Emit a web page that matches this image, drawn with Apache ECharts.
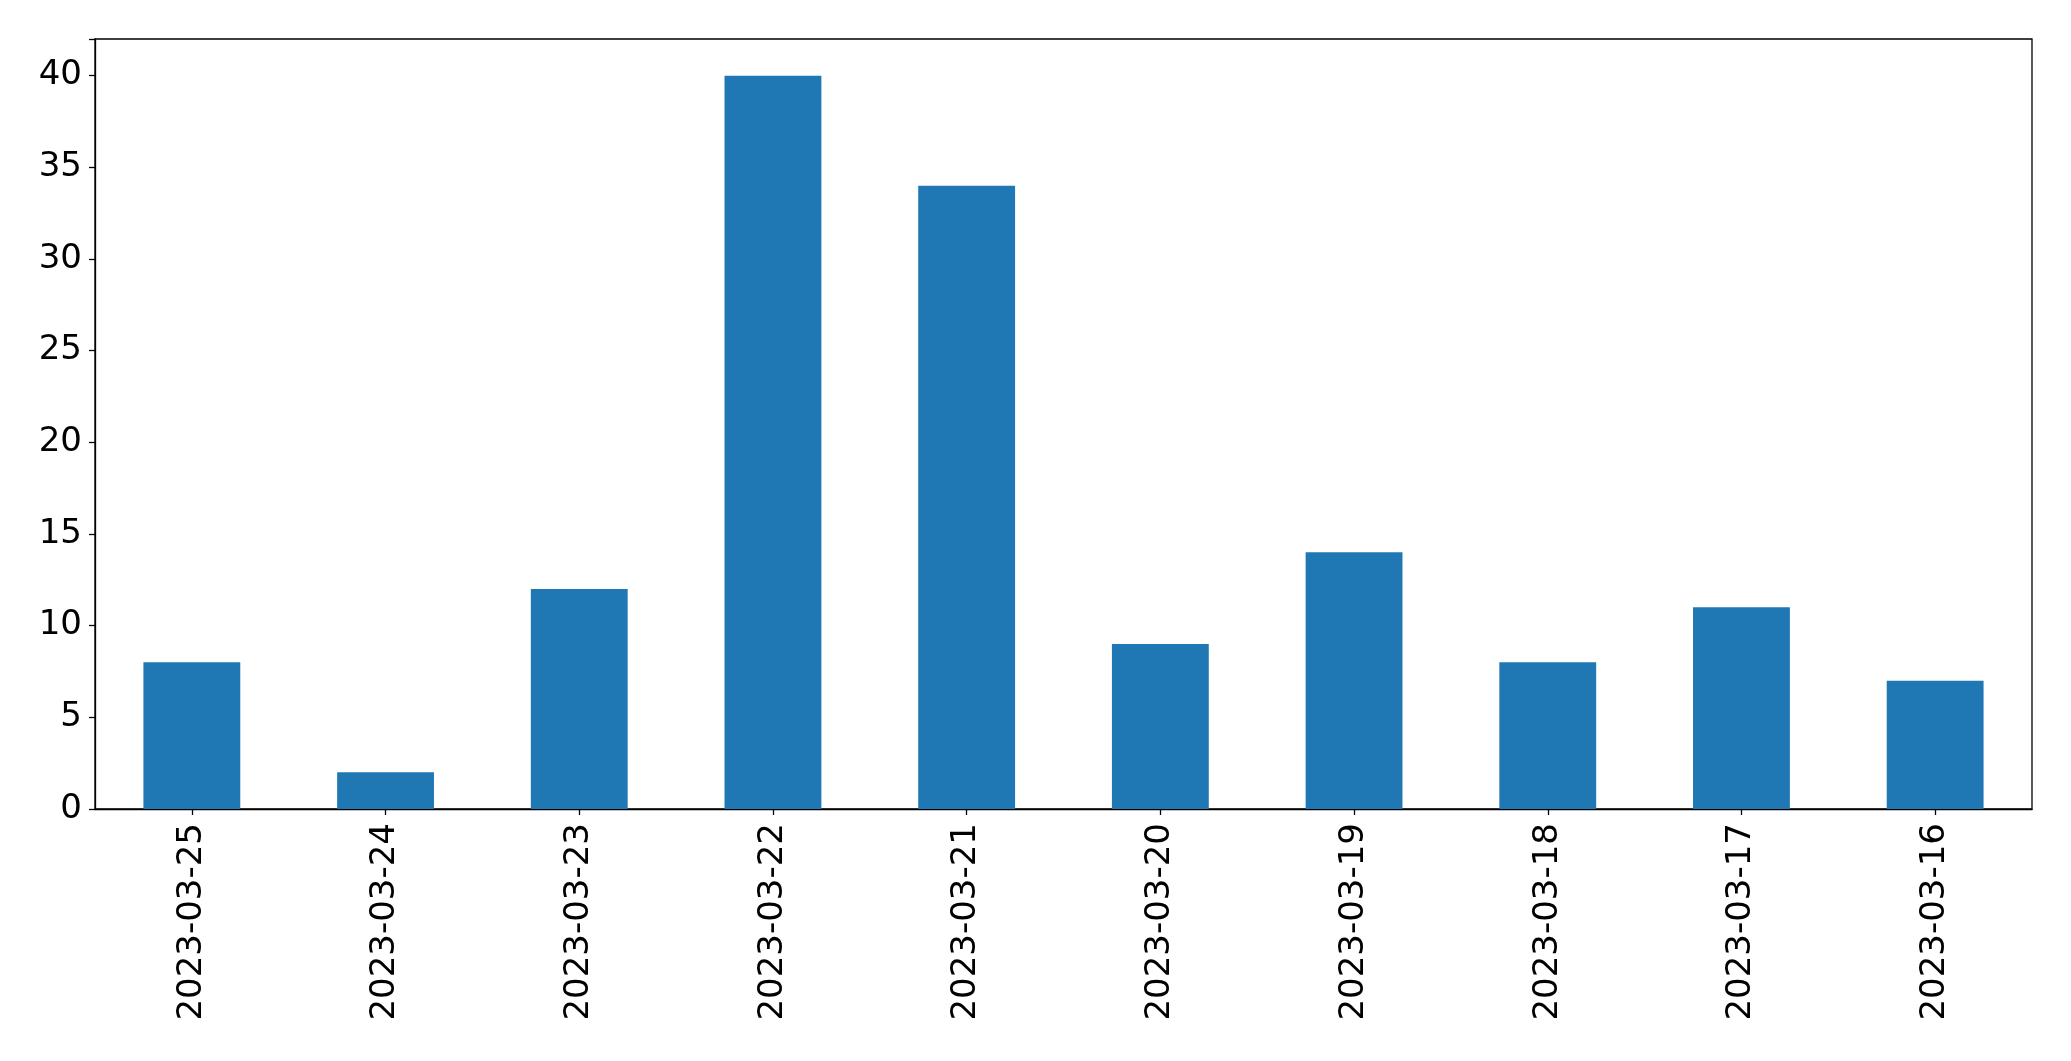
<!DOCTYPE html>
<html>
<head>
<meta charset="utf-8">
<script src="https://cdn.jsdelivr.net/npm/echarts@6/dist/echarts.min.js"></script>
<style>
html,body{margin:0;padding:0;background:#fff;}
#chart{width:2071px;height:1061px;}
</style>
</head>
<body>
<div id="chart"></div>
<script>
const categories = ['2023-03-25','2023-03-24','2023-03-23','2023-03-22','2023-03-21','2023-03-20','2023-03-19','2023-03-18','2023-03-17','2023-03-16'];
const values = [8, 2, 12, 40, 34, 9, 14, 8, 11, 7];
const yTicks = [0, 5, 10, 15, 20, 25, 30, 35, 40];

const chart = echarts.init(document.getElementById('chart'), null, {renderer: 'canvas'});
const font = 'DejaVu Sans';
chart.setOption({
  animation: false,
  backgroundColor: '#fff',
  grid: {
    left: 95, right: 39, top: 39, bottom: 252,
    show: true, borderColor: '#000', borderWidth: 1.3, backgroundColor: 'transparent'
  },
  xAxis: {
    type: 'category',
    data: categories,
    boundaryGap: true,
    axisLine: {show: true, lineStyle: {color: '#000', width: 1.3}},
    axisTick: {show: true, alignWithLabel: true, length: 6, lineStyle: {color: '#000', width: 1.3}},
    axisLabel: {rotate: 90, fontFamily: font, fontSize: 34, color: '#000', margin: 14, interval: 0},
    splitLine: {show: false}
  },
  yAxis: {
    type: 'value',
    min: 0, max: 42, interval: 5,
    axisLine: {show: true, lineStyle: {color: '#000', width: 1.3}},
    axisTick: {show: true, length: 6, lineStyle: {color: '#000', width: 1.3}},
    axisLabel: {fontFamily: font, fontSize: 34, color: '#000', margin: 13,
      formatter: v => yTicks.includes(v) ? String(v) : ''},
    splitLine: {show: false}
  },
  series: [{
    type: 'bar',
    data: values,
    barWidth: '50%',
    itemStyle: {color: '#1f77b4'}
  }]
});
</script>
</body>
</html>
